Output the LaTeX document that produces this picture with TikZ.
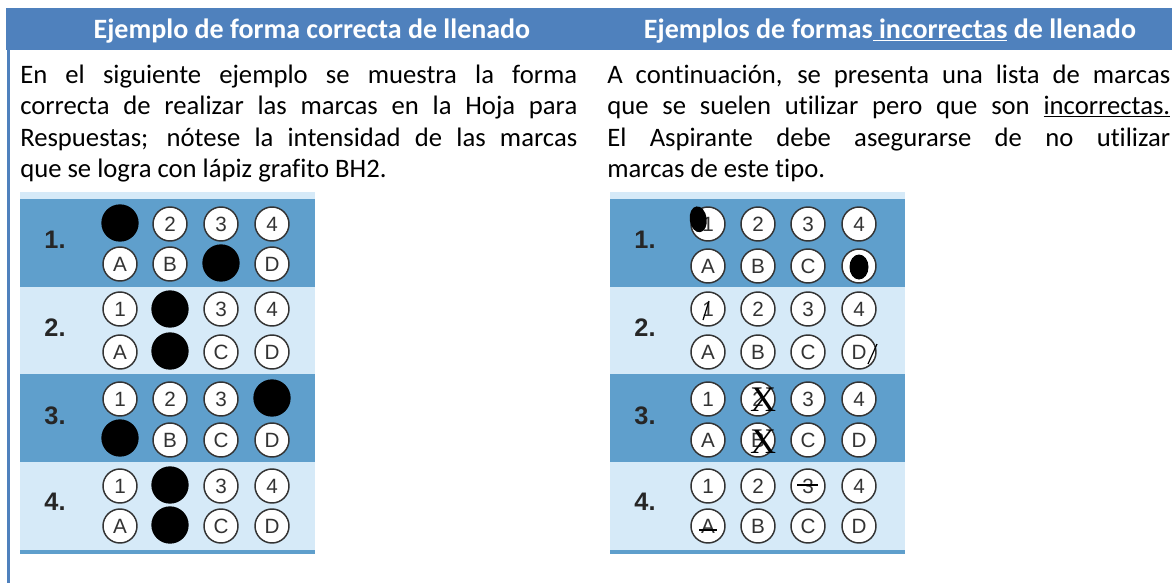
\documentclass[tikz,border=0pt]{standalone}
\usepackage{fontspec}
\setmainfont{Carlito}[Ligatures=NoCommon]
\newfontfamily\arialfont{Liberation Sans}
\newfontfamily\timesfont{Liberation Serif}
\definecolor{headblue}{HTML}{4F81BD}
\definecolor{rowdark}{HTML}{5F9FCC}
\definecolor{rowlight}{HTML}{D6EAF8}
\definecolor{inkgray}{HTML}{333333}
\tikzset{
  bubble/.style={circle, draw=inkgray, line width=1.1pt, fill=white, minimum size=25.5pt, inner sep=0pt, text=inkgray, font=\arialfont\fontsize{15.5}{15.5}\selectfont},
  inked/.style={circle, fill=black, minimum size=28pt, inner sep=0pt},
  qnum/.style={inner sep=0pt, text=black!85, font=\arialfont\bfseries\fontsize{19}{19}\selectfont},
  bodytext/.style={anchor=base west, inner sep=0pt, font=\fontsize{20}{24}\selectfont},
  headtext/.style={anchor=base, inner sep=0pt, text=white, font=\bfseries\fontsize{21}{25}\selectfont},
  blot/.style={fill=black},
  scratch/.style={draw=black, line width=0.9pt},
  crossmark/.style={inner sep=0pt, font=\timesfont\fontsize{27}{27}\selectfont}
}
\begin{document}
\begin{tikzpicture}[x=0.75pt,y=0.75pt,yscale=-1,xscale=1]
\useasboundingbox (0,0) rectangle (1172,583); %set diagram left start at 0, and has height of 583

%Shape: Rectangle [header band]
\fill[headblue] (6,8) rectangle (1172,50);
%Shape: Rectangle [left border]
\fill[headblue] (7,50) rectangle (9.5,583);

% Text Node
\node[headtext] (headok) at (312,38) {Ejemplo de forma correcta de llenado};
% Text Node
\node[headtext] (headbad) at (890,38) {Ejemplos de formas\underline{ incorrectas} de llenado};

% Text Node
\node[bodytext] (okline1) at (20,83) {\makebox[417.75pt][s]{En el siguiente ejemplo se muestra la forma}};
% Text Node
\node[bodytext] (okline2) at (20,114.5) {\makebox[417.75pt][s]{correcta de realizar las marcas en la Hoja para}};
% Text Node
\node[bodytext] (okline3) at (20,146) {\makebox[417.75pt][s]{Respuestas; nótese la intensidad de las marcas}};
% Text Node
\node[bodytext] (okline4) at (20,177.5) {que se logra con lápiz grafito BH2.};
% Text Node
\node[bodytext] (badline1) at (607,83) {\makebox[422.25pt][s]{A continuación, se presenta una lista de marcas}};
% Text Node
\node[bodytext] (badline2) at (607,114.5) {\makebox[422.25pt][s]{que se suelen utilizar pero que son \underline{incorrectas.}}};
% Text Node
\node[bodytext] (badline3) at (607,146) {\makebox[422.25pt][s]{El Aspirante debe asegurarse de no utilizar}};
% Text Node
\node[bodytext] (badline4) at (607,177.5) {marcas de este tipo.};

%Shape: Rectangle [left sheet rows]
\fill[rowlight] (20,192) rectangle (315,199);
\fill[rowdark] (20,199) rectangle (315,287);
\fill[rowlight] (20,287) rectangle (315,374);
\fill[rowdark] (20,374) rectangle (315,462);
\fill[rowlight] (20,462) rectangle (315,550);
\fill[rowdark] (20,550) rectangle (315,554);
%Shape: Rectangle [right sheet rows]
\fill[rowlight] (610,192) rectangle (905,199);
\fill[rowdark] (610,199) rectangle (905,287);
\fill[rowlight] (610,287) rectangle (905,374);
\fill[rowdark] (610,374) rectangle (905,462);
\fill[rowlight] (610,462) rectangle (905,550);
\fill[rowdark] (610,550) rectangle (905,554);

% Question numbers
\node[qnum] (okq1) at (55,240) {1.};
\node[qnum] (okq2) at (55,328) {2.};
\node[qnum] (okq3) at (55,416) {3.};
\node[qnum] (okq4) at (55,502) {4.};
\node[qnum] (badq1) at (645,240) {1.};
\node[qnum] (badq2) at (645,328) {2.};
\node[qnum] (badq3) at (645,416) {3.};
\node[qnum] (badq4) at (645,502) {4.};

% Correct sheet, question 1
\node[inked] (ok1n1) at (120,223) {};
\node[bubble] (ok1n2) at (170,224) {2};
\node[bubble] (ok1n3) at (221,224) {3};
\node[bubble] (ok1n4) at (272,224) {4};
\node[bubble] (ok1l1) at (120,264) {A};
\node[bubble] (ok1l2) at (170,264) {B};
\node[inked] (ok1l3) at (221,263) {};
\node[bubble] (ok1l4) at (272,264) {D};
% Correct sheet, question 2
\node[bubble] (ok2n1) at (120,309) {1};
\node[inked] (ok2n2) at (170,309) {};
\node[bubble] (ok2n3) at (221,309) {3};
\node[bubble] (ok2n4) at (272,309) {4};
\node[bubble] (ok2l1) at (120,352) {A};
\node[inked] (ok2l2) at (170,351) {};
\node[bubble] (ok2l3) at (221,352) {C};
\node[bubble] (ok2l4) at (272,352) {D};
% Correct sheet, question 3
\node[bubble] (ok3n1) at (120,399) {1};
\node[bubble] (ok3n2) at (170,399) {2};
\node[bubble] (ok3n3) at (221,399) {3};
\node[inked] (ok3n4) at (272,398) {};
\node[inked] (ok3l1) at (120,438) {};
\node[bubble] (ok3l2) at (170,440) {B};
\node[bubble] (ok3l3) at (221,440) {C};
\node[bubble] (ok3l4) at (272,440) {D};
% Correct sheet, question 4
\node[bubble] (ok4n1) at (120,486) {1};
\node[inked] (ok4n2) at (170,485) {};
\node[bubble] (ok4n3) at (221,486) {3};
\node[bubble] (ok4n4) at (272,486) {4};
\node[bubble] (ok4l1) at (120,526) {A};
\node[inked] (ok4l2) at (170,525) {};
\node[bubble] (ok4l3) at (221,526) {C};
\node[bubble] (ok4l4) at (272,526) {D};

% Wrong sheet, question 1
\node[bubble] (bad1n1) at (708,224) {1};
\node[bubble] (bad1n2) at (758,224) {2};
\node[bubble] (bad1n3) at (808,224) {3};
\node[bubble] (bad1n4) at (859,224) {4};
\node[bubble] (bad1l1) at (708,266) {A};
\node[bubble] (bad1l2) at (758,266) {B};
\node[bubble] (bad1l3) at (808,266) {C};
\node[bubble] (bad1l4) at (859,266) {D};
% Wrong sheet, question 2
\node[bubble] (bad2n1) at (708,309) {1};
\node[bubble] (bad2n2) at (758,309) {2};
\node[bubble] (bad2n3) at (808,309) {3};
\node[bubble] (bad2n4) at (859,309) {4};
\node[bubble] (bad2l1) at (708,352) {A};
\node[bubble] (bad2l2) at (758,352) {B};
\node[bubble] (bad2l3) at (808,352) {C};
\node[bubble] (bad2l4) at (859,352) {D};
% Wrong sheet, question 3
\node[bubble] (bad3n1) at (708,399) {1};
\node[bubble] (bad3n2) at (758,399) {2};
\node[bubble] (bad3n3) at (808,399) {3};
\node[bubble] (bad3n4) at (859,399) {4};
\node[bubble] (bad3l1) at (708,440) {A};
\node[bubble] (bad3l2) at (758,440) {B};
\node[bubble] (bad3l3) at (808,440) {C};
\node[bubble] (bad3l4) at (859,440) {D};
% Wrong sheet, question 4
\node[bubble] (bad4n1) at (708,486) {1};
\node[bubble] (bad4n2) at (758,486) {2};
\node[bubble] (bad4n3) at (808,486) {3};
\node[bubble] (bad4n4) at (859,486) {4};
\node[bubble] (bad4l1) at (708,526) {A};
\node[bubble] (bad4l2) at (758,526) {B};
\node[bubble] (bad4l3) at (808,526) {C};
\node[bubble] (bad4l4) at (859,526) {D};

%Shape: Ellipse [partial blots]
\fill[blot, rotate around={-8:([shift={(-9,-6)}]bad1n1.center)}] ([shift={(-9,-6)}]bad1n1.center) ellipse [x radius=8.5, y radius=13];
\fill[blot] ([shift={(0,1)}]bad1l4.center) ellipse [x radius=9.5, y radius=12.5];
%Straight Lines [slashes]
\draw[scratch] ([shift={(-5,11)}]bad2n1.center) -- ([shift={(1,-8)}]bad2n1.center);
\draw[scratch] ([shift={(9,12)}]bad2l4.center) -- ([shift={(18,-8)}]bad2l4.center);
% Text Node [crosses]
\node[crossmark] (bad3x1) at ([shift={(5,1)}]bad3n2.center) {X};
\node[crossmark] (bad3x2) at ([shift={(5,2)}]bad3l2.center) {X};
%Straight Lines [strike-through]
\draw[scratch] ([shift={(-11,-1)}]bad4n3.center) -- ([shift={(10,-1)}]bad4n3.center);
\draw[scratch] ([shift={(-9,4)}]bad4l1.center) -- ([shift={(9,4)}]bad4l1.center);
\end{tikzpicture}
\end{document}
